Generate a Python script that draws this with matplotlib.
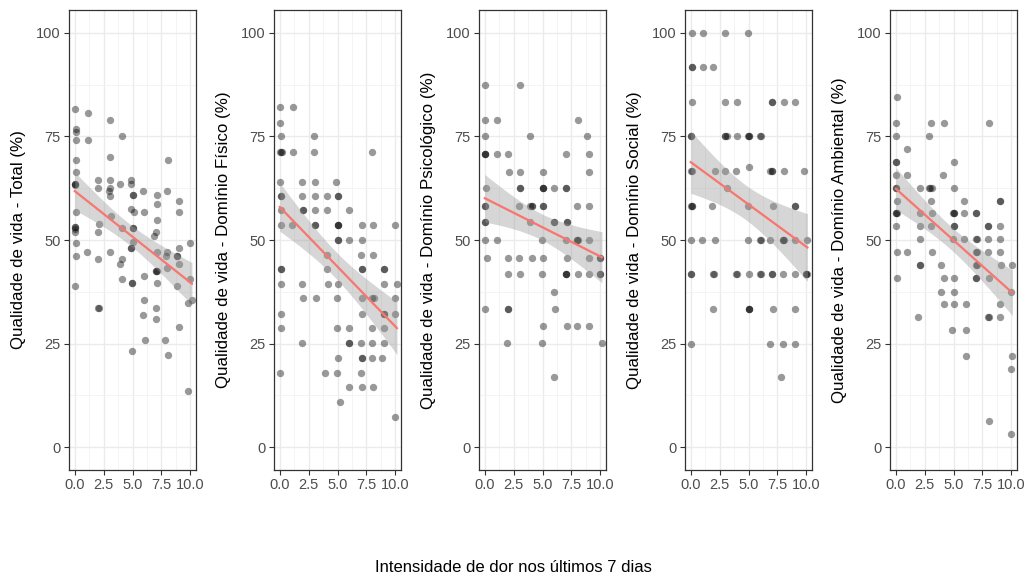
import numpy as np
import matplotlib.pyplot as plt

# pain intensity (x) vs quality of life score (y), one list of points per domain
total_pts = [
    (0.0, 81.7), (1.15, 80.6), (3.05, 78.9), (0.1, 76.9), (0.1, 76.1), (0.1, 74.1), (1.15, 74.1),
    (4.05, 75.1), (3.05, 70.1), (0.1, 69.2), (8.1, 69.2), (0.1, 66.4), (0.0, 63.6), (0.0, 63.6),
    (0.0, 63.2), (2.05, 64.4), (3.05, 64.4), (2.05, 62.5), (3.05, 62.5), (2.95, 61.8), (3.05, 60.7),
    (3.95, 63.5), (4.9, 64.5), (4.9, 63.6), (5.05, 60.8), (5.05, 60.8), (5.9, 61.8), (7.1, 60.8),
    (7.1, 58.6), (7.95, 61.8), (9.0, 59.5), (0.1, 56.7), (3.15, 55.8), (4.9, 57.6), (5.1, 56.7),
    (6.0, 56.7), (7.1, 54.8), (0.0, 53.2), (0.0, 53.2), (0.0, 52.7), (0.0, 52.0), (2.1, 53.9),
    (2.05, 52.0), (4.05, 52.8), (5.05, 53.0), (5.05, 53.0), (7.0, 52.0), (6.9, 51.0), (9.0, 56.7),
    (0.1, 49.2), (10.0, 49.2), (1.05, 47.0), (0.1, 46.1), (3.05, 47.0), (5.05, 49.4), (4.9, 48.0),
    (4.9, 48.0), (7.1, 47.2), (8.0, 47.2), (7.9, 46.1), (9.0, 48.0), (8.85, 46.1), (8.85, 46.1),
    (9.0, 44.2), (2.05, 45.3), (4.05, 45.3), (3.95, 44.2), (7.0, 42.4), (7.0, 42.4), (7.1, 42.4),
    (7.95, 43.2), (10.0, 40.6), (4.05, 40.6), (4.95, 39.6), (4.95, 39.6), (6.0, 41.4), (7.1, 39.6),
    (0.0, 38.8), (8.85, 38.8), (9.85, 34.7), (10.15, 35.5), (2.05, 33.6), (2.1, 33.6), (6.0, 35.6),
    (7.0, 33.6), (5.9, 31.9), (7.0, 30.9), (9.0, 29.1), (6.05, 25.9), (7.85, 25.9), (4.95, 23.1),
    (8.1, 22.2), (9.85, 13.5),
]

fisico_pts = [
    (0.0, 82.1), (1.15, 82.1), (0.0, 78.3), (0.1, 75.0), (2.95, 75.0), (0.0, 71.2), (0.1, 71.2),
    (0.15, 71.2), (1.15, 71.2), (2.95, 71.2), (7.95, 71.2), (0.0, 64.1), (1.9, 64.1), (3.05, 64.1),
    (4.9, 64.1), (0.1, 60.7), (0.1, 60.7), (1.9, 60.7), (3.05, 60.7), (4.05, 60.7), (5.05, 60.7),
    (5.05, 60.7), (0.1, 57.3), (2.05, 57.3), (2.05, 57.3), (3.05, 57.3), (4.05, 57.3), (6.0, 57.3),
    (0.1, 53.5), (1.05, 53.5), (3.05, 53.5), (3.05, 53.5), (5.05, 53.5), (5.05, 53.5), (5.0, 53.5),
    (7.1, 53.5), (8.1, 53.5), (10.0, 53.5), (5.05, 50.1), (5.05, 50.1), (6.0, 50.1), (7.1, 50.1),
    (4.05, 46.4), (7.0, 46.4), (8.1, 46.4), (0.1, 43.0), (0.1, 43.0), (4.05, 43.0), (7.1, 43.0),
    (7.1, 43.0), (9.05, 43.0), (9.05, 43.0), (0.1, 39.3), (1.9, 39.3), (4.15, 39.3), (5.05, 39.3),
    (9.0, 39.3), (10.15, 39.3), (2.05, 35.9), (3.15, 35.9), (4.95, 35.9), (7.1, 35.9), (7.95, 35.9),
    (8.2, 35.9), (10.0, 35.9), (0.1, 32.1), (7.1, 32.1), (9.0, 32.1), (9.0, 32.1), (10.0, 32.1),
    (0.1, 28.7), (4.95, 28.7), (6.0, 28.7), (7.95, 28.7), (9.05, 28.7), (1.9, 25.1), (6.0, 25.1),
    (6.0, 25.1), (7.0, 25.1), (7.95, 25.1), (9.0, 25.1), (5.05, 21.5), (7.1, 21.5), (7.1, 21.5),
    (7.95, 21.5), (8.85, 21.5), (0.0, 17.9), (3.95, 17.9), (4.95, 17.9), (7.0, 17.9), (6.0, 14.5),
    (7.1, 14.5), (8.1, 14.5), (5.2, 10.8), (10.0, 7.3),
]

psico_pts = [
    (0.0, 87.4), (3.05, 87.4), (0.0, 79.0), (1.05, 79.0), (8.1, 79.0), (0.0, 75.0), (3.95, 75.0),
    (8.85, 75.0), (0.0, 70.8), (0.0, 70.8), (0.05, 70.8), (1.05, 70.7), (2.05, 70.8), (7.0, 70.8),
    (9.0, 70.7), (2.1, 66.5), (3.05, 66.5), (5.05, 66.5), (9.05, 66.5), (0.1, 62.5), (3.05, 62.5),
    (3.05, 62.5), (5.05, 62.5), (5.05, 62.5), (5.0, 62.5), (6.0, 62.5), (7.0, 62.5), (7.0, 62.5),
    (0.0, 58.2), (0.0, 58.2), (2.95, 58.2), (4.05, 58.2), (4.05, 58.2), (3.95, 58.2), (5.05, 58.2),
    (5.05, 58.2), (7.95, 58.2), (9.0, 58.2), (0.0, 54.3), (0.0, 54.3), (3.95, 54.3), (6.0, 54.3),
    (6.0, 54.3), (7.1, 54.3), (7.1, 54.3), (0.0, 50.1), (1.05, 50.1), (4.95, 50.1), (7.0, 50.1),
    (7.95, 50.1), (8.05, 50.1), (8.0, 50.1), (9.0, 50.1), (0.15, 45.7), (2.05, 45.7), (2.95, 45.7),
    (4.05, 45.7), (5.05, 45.7), (7.1, 45.7), (9.0, 45.7), (10.0, 45.7), (10.0, 45.7), (2.05, 41.7),
    (3.05, 41.7), (4.95, 41.7), (7.0, 41.7), (7.0, 41.7), (7.05, 41.7), (8.1, 41.7), (9.0, 41.7),
    (10.0, 41.7), (10.0, 41.7), (6.0, 37.5), (0.0, 33.3), (2.05, 33.3), (2.05, 33.3), (6.05, 33.3),
    (5.05, 29.3), (7.1, 29.3), (7.95, 29.3), (9.0, 29.3), (1.9, 25.1), (4.95, 25.1), (10.15, 25.1),
    (6.0, 16.9),
]

social_pts = [
    (0.1, 100), (1.1, 100), (3.0, 100), (4.95, 100), (0.1, 91.7), (0.1, 91.7), (1.1, 91.7),
    (1.95, 91.7), (0.1, 83.3), (3.0, 83.3), (4.0, 83.3), (7.0, 83.3), (7.0, 83.3), (8.1, 83.3),
    (9.05, 83.3), (0.0, 75), (0.0, 75), (3.0, 75), (3.0, 75), (3.1, 75), (4.0, 75), (5.05, 75),
    (5.05, 75), (4.95, 75), (6.0, 75), (6.05, 75), (5.05, 67.7), (0.1, 66.7), (0.05, 66.7),
    (2.1, 66.7), (3.0, 66.7), (3.95, 66.7), (6.85, 66.7), (7.0, 66.7), (7.0, 66.7), (8.1, 66.7),
    (9.85, 66.7), (3.1, 62.6), (0.1, 58.3), (0.05, 58.3), (0.1, 58.3), (1.85, 58.3), (4.95, 58.3),
    (7.1, 58.3), (9.0, 58.3), (9.0, 58.3), (0.0, 50), (1.0, 50), (2.1, 50), (4.95, 50), (6.0, 50),
    (6.05, 50), (6.9, 50), (7.95, 50), (8.05, 50), (8.0, 50), (9.0, 50), (10.1, 50), (0.0, 41.7),
    (0.0, 41.7), (1.95, 41.7), (2.0, 41.7), (4.0, 41.7), (3.95, 41.7), (5.05, 41.7), (6.05, 41.7),
    (6.0, 41.7), (7.0, 41.7), (7.0, 41.7), (7.95, 41.7), (9.05, 41.7), (10.0, 41.7), (10.0, 41.7),
    (10.05, 41.7), (1.95, 33.3), (5.05, 33.3), (5.0, 33.3), (5.05, 33.3), (7.1, 33.3), (9.0, 33.3),
    (0.0, 25), (6.9, 25), (7.95, 25), (9.0, 25), (7.85, 16.9),
]

ambiental_pts = [
    (0.1, 84.4), (0.0, 78.2), (3.05, 78.2), (4.15, 78.2), (8.05, 78.2), (0.0, 75.1), (2.9, 75.1),
    (1.0, 72.0), (0.0, 68.9), (0.0, 68.9), (5.0, 68.9), (0.0, 65.8), (1.0, 65.8), (4.05, 65.8),
    (0.0, 62.6), (0.0, 62.6), (2.1, 62.6), (2.9, 62.6), (2.95, 62.6), (3.15, 62.6), (5.0, 62.6),
    (0.1, 59.5), (3.05, 59.5), (5.95, 59.5), (9.0, 59.5), (9.05, 59.5), (0.0, 56.5), (0.0, 56.5),
    (0.1, 56.5), (2.1, 56.5), (3.15, 56.5), (5.0, 56.5), (5.0, 56.5), (4.95, 56.5), (5.95, 56.5),
    (6.95, 56.5), (6.95, 56.5), (0.0, 53.3), (2.1, 53.3), (3.05, 53.3), (5.0, 53.3), (5.0, 53.3),
    (7.95, 53.3), (7.95, 53.3), (9.0, 53.3), (2.1, 50.2), (4.95, 50.2), (5.95, 50.2), (6.95, 50.2),
    (7.0, 50.2), (7.95, 50.2), (9.0, 50.2), (0.1, 47.1), (1.0, 47.1), (3.15, 47.1), (6.95, 47.1),
    (7.0, 47.1), (7.95, 47.1), (9.0, 47.1), (2.1, 44.0), (2.1, 44.0), (3.9, 44.0), (6.95, 44.0),
    (7.05, 44.0), (9.1, 44.0), (10.1, 44.0), (0.1, 40.9), (4.15, 40.9), (5.0, 40.9), (6.95, 40.9),
    (6.95, 40.9), (8.05, 40.9), (3.9, 37.5), (5.0, 37.5), (10.0, 37.5), (4.15, 34.5), (5.0, 34.5),
    (6.1, 34.5), (9.0, 34.5), (1.9, 31.3), (7.95, 31.3), (8.05, 31.3), (9.0, 31.3), (4.9, 28.2),
    (6.1, 28.2), (6.1, 21.9), (10.1, 21.9), (10.0, 18.8), (8.05, 6.4), (10.0, 3.2),
]

ylabels = [
    "Qualidade de vida - Total (%)",
    "Qualidade de vida - Domínio Físico (%)",
    "Qualidade de vida - Domínio Psicológico (%)",
    "Qualidade de vida - Domínio Social (%)",
    "Qualidade de vida - Domínio Ambiental (%)",
]
xlabel = "Intensidade de dor nos últimos 7 dias"
xticks = [0, 2.5, 5, 7.5, 10]
yticks = [0, 25, 50, 75, 100]

plt.rcParams['font.family'] = ['Liberation Sans', 'DejaVu Sans']

W, H = 1027, 575
fig = plt.figure(figsize=(W / 100, H / 100), dpi=100)
fig.patch.set_facecolor('white')

panel_left = [69, 274, 479, 685, 890]  # px
panel_w, panel_top, panel_bot = 127, 10, 470


def lm_fit(x, y, n_grid=80, tcrit=1.99):
    # ordinary least squares with a 95% band for the mean
    n = len(x)
    b, a = np.polyfit(x, y, 1)
    resid = y - (a + b * x)
    s = np.sqrt(np.sum(resid ** 2) / (n - 2))
    xm = x.mean()
    sxx = np.sum((x - xm) ** 2)
    xg = np.linspace(x.min(), x.max(), n_grid)
    yg = a + b * xg
    se = s * np.sqrt(1.0 / n + (xg - xm) ** 2 / sxx)
    return xg, yg, yg - tcrit * se, yg + tcrit * se


all_pts = [total_pts, fisico_pts, psico_pts, social_pts, ambiental_pts]
for i, pts in enumerate(all_pts):
    arr = np.array(pts, dtype=float)
    x, y = arr[:, 0], arr[:, 1]
    ax = fig.add_axes([panel_left[i] / W, 1 - panel_bot / H,
                       panel_w / W, (panel_bot - panel_top) / H])
    ax.set_xlim(-0.5, 10.5)
    ax.set_ylim(-5.5, 105.5)
    ax.set_xticks(xticks)
    ax.set_xticklabels(['0.0', '2.5', '5.0', '7.5', '10.0'])
    ax.set_yticks(yticks)
    ax.set_xticks([1.25, 3.75, 6.25, 8.75], minor=True)
    ax.set_yticks([12.5, 37.5, 62.5, 87.5], minor=True)
    ax.grid(which='major', color='#EBEBEB', linewidth=1.0)
    ax.grid(which='minor', color='#F2F2F2', linewidth=0.6)
    ax.set_axisbelow(True)
    for sp in ax.spines.values():
        sp.set_color('#333333')
        sp.set_linewidth(0.9)
    ax.tick_params(which='major', length=3.5, width=0.8, color='#333333',
                   labelcolor='#4D4D4D', labelsize=10.5, pad=2.5)
    ax.tick_params(which='minor', length=0)

    ax.scatter(x, y, s=28, color='black', alpha=0.4, linewidths=0, zorder=2)
    xg, yg, lo, hi = lm_fit(x, y)
    ax.fill_between(xg, lo, hi, color='#999999', alpha=0.4, linewidth=0, zorder=3)
    ax.plot(xg, yg, color='#F8766D', linewidth=1.6, zorder=4)

    ax.set_ylabel(ylabels[i], fontsize=12.2, color='black')
    ax.yaxis.set_label_coords(-43 / panel_w, 0.5)

fig.text(513 / W, 1 - 567 / H, xlabel, fontsize=12, ha='center', va='center')

fig.savefig('out.png', dpi=100)
